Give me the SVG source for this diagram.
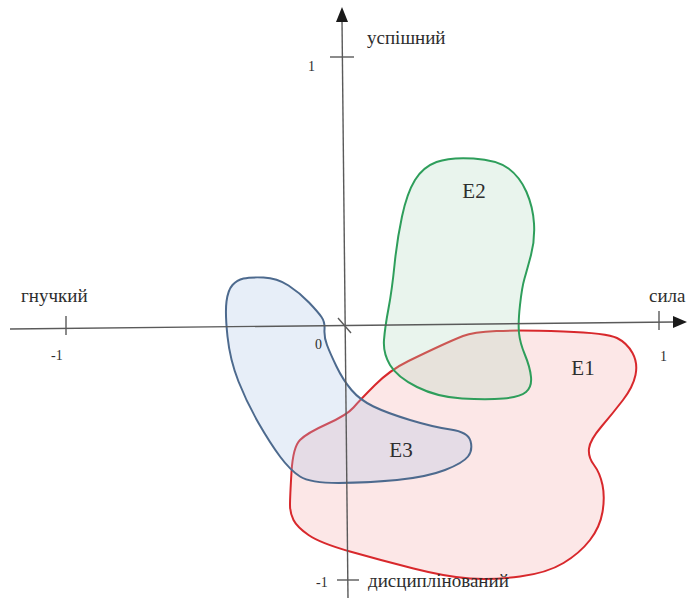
<svg xmlns="http://www.w3.org/2000/svg" width="687" height="601" viewBox="0 0 687 601">
<style>
text{font-family:"Liberation Serif","Times New Roman",serif;fill:#2e2e2e}
.lab{font-size:19px}
.num{font-size:14px}
.el{font-size:21px;text-anchor:middle}
.ax{stroke:#5a5a5a;stroke-width:1.4;fill:none}
.region{stroke-width:2;stroke-linejoin:round}
</style>
<rect width="687" height="601" fill="#ffffff"/>
<g id="E1">
<path class="region" fill="#f3a8a8" fill-opacity="0.28" stroke="#d8282c" d="M291.5,472 Q293,447 300,440 Q307,433 327,424 Q347,415 353.5,407.5 Q360,400 375,385 Q390,370 408.5,361 Q427,352 440,346 Q453,340 463,336 Q473,332 496.5,331 Q520,330 563.5,331.5 Q607,333 617,338 Q627,343 632.5,353 Q638,363 635.5,375 Q633,387 623,400 Q613,413 601.5,426.5 Q590,440 589,448.5 Q588,457 594,465 Q600,473 602.5,485 Q605,497 602.5,512 Q600,527 590,540 Q580,553 563.5,563 Q547,573 520,576.5 Q493,580 470,578.5 Q447,577 413.5,568.5 Q380,560 350,551.5 Q320,543 308.5,535 Q297,527 293.5,520 Q290,513 290,505 Q290,497 291.5,472 Z"/>
<text class="el" x="583" y="375">E1</text>
</g>
<g id="E2">
<path class="region" fill="#acd8bb" fill-opacity="0.27" stroke="#2e9e5b" d="M473.5,158.5 Q497,160 508.5,168.5 Q520,177 526.5,192 Q533,207 534,223.5 Q535,240 531,255 Q527,270 524.5,278.5 Q522,287 520,305 Q518,323 519,333 Q520,343 525,355 Q530,367 531,377 Q532,387 526,392 Q520,397 503.5,398.5 Q487,400 462,398.5 Q437,397 417,387 Q397,377 390,365 Q383,353 384,340 Q385,327 388.5,308.5 Q392,290 394.5,265 Q397,240 402,216.5 Q407,193 415,180 Q423,167 436.5,162 Q450,157 473.5,158.5 Z"/>
<text class="el" x="474" y="198">E2</text>
</g>
<g id="E3">
<path class="region" fill="#a9c3e6" fill-opacity="0.28" stroke="#4d6a8e" d="M263.5,277.5 Q277,278 288.5,285.5 Q300,293 309,302.5 Q318,312 321.5,317 Q325,322 324.5,329.5 Q324,337 327,345 Q330,353 336.5,366.5 Q343,380 351.5,390 Q360,400 373.5,406.5 Q387,413 410,420 Q433,427 450.5,429.5 Q468,432 470.5,441 Q473,450 468,456.5 Q463,463 445,470 Q427,477 397,480 Q367,483 338.5,483 Q310,483 300,476.5 Q290,470 280,456.5 Q270,443 258.5,423 Q247,403 238.5,381.5 Q230,360 227.5,336.5 Q225,313 226.5,301.5 Q228,290 232.5,285 Q237,280 243.5,278.5 Q250,277 263.5,277.5 Z"/>
<text class="el" x="401" y="457">E3</text>
</g>
<g id="connectors">
<line class="ax" x1="342" y1="20" x2="348" y2="598"/>
<polygon points="342,7 336,22 348,22" fill="#1a1a1a"/>
<line class="ax" x1="10" y1="329" x2="674" y2="322"/>
<polygon points="687,322 673,316 673,328" fill="#1a1a1a"/>
<line class="ax" x1="330" y1="57" x2="354" y2="57"/>
<line class="ax" x1="337" y1="580" x2="359" y2="580"/>
<line class="ax" x1="66" y1="316" x2="66" y2="335"/>
<line class="ax" x1="659" y1="311" x2="659" y2="330"/>
<line class="ax" x1="338" y1="318" x2="351" y2="333"/>
</g>
<g id="labels">
<text class="lab" x="367" y="44">успішний</text>
<text class="lab" x="21" y="302">гнучкий</text>
<text class="lab" x="649" y="302">сила</text>
<text class="lab" x="368" y="587">дисциплінований</text>
<text class="num" x="308" y="71">1</text>
<text class="num" x="51" y="360">-1</text>
<text class="num" x="660" y="361">1</text>
<text class="num" x="315" y="349">0</text>
<text class="num" x="316" y="587">-1</text>
</g>
</svg>
